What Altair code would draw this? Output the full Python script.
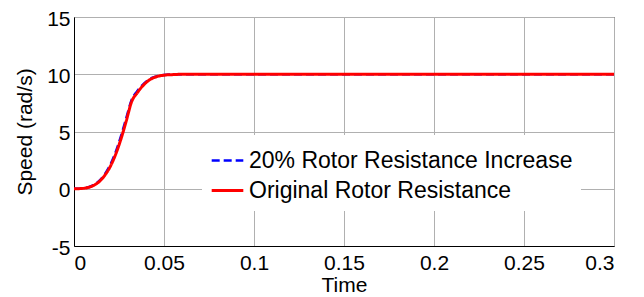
import altair as alt
import pandas as pd

time = [0, 0.004, 0.008, 0.011, 0.014, 0.017, 0.020, 0.023, 0.026, 0.029,
        0.032, 0.035, 0.038, 0.041, 0.044, 0.047, 0.050, 0.055, 0.060, 0.070, 0.3]
speed_original = [0, 0.02, 0.12, 0.30, 0.62, 1.15, 1.90, 2.95, 4.30, 5.90,
                  7.60, 8.35, 8.95, 9.40, 9.68, 9.84, 9.92, 9.97, 10.0, 10.0, 10.0]
speed_increase = [0, 0.02, 0.13, 0.33, 0.68, 1.25, 2.05, 3.15, 4.55, 6.15,
                  7.75, 8.50, 9.05, 9.47, 9.72, 9.86, 9.93, 9.98, 10.0, 10.0, 10.0]
series = ["20% Rotor Resistance Increase", "Original Rotor Resistance"]
colors = ["#0000ff", "#ff0000"]

rows = []
for t, v in zip(time, speed_increase):
    rows.append({"Time": t, "Speed": v, "Series": series[0]})
for t, v in zip(time, speed_original):
    rows.append({"Time": t, "Speed": v, "Series": series[1]})
df = pd.DataFrame(rows)

font = "Liberation Sans"
fs = 21

legend_opts = dict(orient="none", legendX=128, legendY=118,
                   fillColor="white", padding=8,
                   symbolType="stroke", symbolSize=1000,
                   symbolStrokeWidth=3, labelFontSize=23,
                   labelFont=font, labelColor="black",
                   labelOffset=4, rowPadding=0, labelLimit=500)

chart = alt.Chart(df).mark_line(interpolate="monotone", clip=True).encode(
    x=alt.X("Time:Q", title="Time",
            scale=alt.Scale(domain=[0, 0.3], nice=False, zero=False),
            axis=alt.Axis(values=[0, 0.05, 0.1, 0.15, 0.2, 0.25, 0.3],
                          labelExpr="'' + datum.value",
                          labelPadding=6, titlePadding=1)),
    y=alt.Y("Speed:Q", title="Speed (rad/s)",
            scale=alt.Scale(domain=[-5, 15], nice=False, zero=False),
            axis=alt.Axis(values=[-5, 0, 5, 10, 15], labelPadding=4, titlePadding=11,
                          labelOffset=2, labelExpr="'' + datum.value")),
    color=alt.Color("Series:N", title=None,
                    scale=alt.Scale(domain=series, range=colors),
                    legend=alt.Legend(**legend_opts)),
    strokeDash=alt.StrokeDash("Series:N", title=None,
                              scale=alt.Scale(domain=series, range=[[8, 4], [1, 0]]),
                              legend=alt.Legend(**legend_opts)),
    strokeWidth=alt.StrokeWidth("Series:N", scale=alt.Scale(domain=series, range=[2.5, 3]),
                                legend=None),
    order=alt.Order("Series:N", sort="ascending"),
).properties(
    width=540, height=229,
    autosize=alt.AutoSizeParams(type="none"),
    padding={"left": 66, "top": 9, "right": 22, "bottom": 51},
).configure_view(
    stroke="black", strokeWidth=1
).configure_axis(
    domainColor="black", domainWidth=1, ticks=False,
    grid=True, gridColor="#b0b0b0", gridWidth=1,
    labelFont=font, labelFontSize=fs, labelColor="black",
    titleFont=font, titleFontSize=fs, titleFontWeight="normal", titleColor="black",
)

chart.save("out.html", embed_options={"renderer": "svg", "actions": False})
